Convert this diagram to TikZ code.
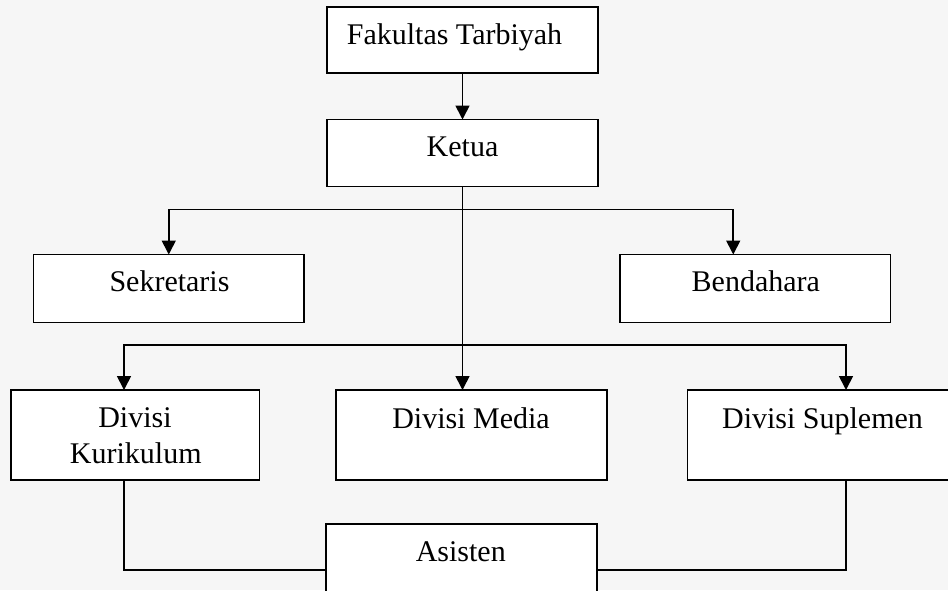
\documentclass[tikz,border=0pt]{standalone}
\usepackage{fontspec}
\setmainfont{Liberation Serif}
\usetikzlibrary{arrows.meta}
\definecolor{bgcol}{RGB}{246,246,246}
\tikzset{
  box/.style={draw=black, fill=white, line width=1.7pt, inner sep=0pt, outer sep=0pt},
  lbl/.style={inner sep=0pt, outer sep=0pt, font=\fontsize{30pt}{36pt}\selectfont, anchor=base},
  conn/.style={draw=black, line width=1.7pt},
  arr/.style={conn, -{Triangle[length=14pt,width=14pt]}}
}
\begin{document}
\begin{tikzpicture}[x=1pt,y=-1pt]
\useasboundingbox (0,0) rectangle (948,590);
\clip (0,0) rectangle (948,590);
\fill[bgcol] (0,0) rectangle (948,590);
% boxes
\node[box, minimum width=271pt, minimum height=66pt] (fak) at (462.5,40) {};
\node[box, minimum width=271pt, minimum height=67pt] (ket) at (462.5,153) {};
\node[box, minimum width=270.5pt, minimum height=68pt] (sek) at (168.75,288.5) {};
\node[box, minimum width=270.5pt, minimum height=68pt] (ben) at (755.25,288.5) {};
\node[box, minimum width=248.5pt, minimum height=90pt] (kur) at (135.25,435) {};
\node[box, minimum width=271pt, minimum height=90pt] (med) at (471.5,435) {};
\node[box, minimum width=270.5pt, minimum height=90pt] (sup) at (822.75,435) {};
\node[box, minimum width=271pt, minimum height=92pt] (asi) at (461.5,570) {};
% texts
\node[lbl] (tfak) at (454.5,44.3) {Fakultas Tarbiyah};
\node[lbl] (tket) at (462.5,156.7) {Ketua};
\node[lbl] (tsek) at (169.5,291.7) {Sekretaris};
\node[lbl] (tben) at (755.8,291.7) {Bendahara};
\node[lbl] (tkur1) at (135,427.3) {Divisi};
\node[lbl] (tkur2) at (135.8,463.3) {Kurikulum};
\node[lbl] (tmed) at (471,428.3) {Divisi Media};
\node[lbl] (tsup) at (822.5,428.3) {Divisi Suplemen};
\node[lbl] (tasi) at (460.8,561.7) {Asisten};
% junctions
\coordinate (j1) at (462.5,209.5);
\coordinate (j2) at (462.5,345);
% connectors
\draw[arr] (fak.south) -- (ket.north);
\draw[arr] (ket.south) -- (ket.south |- med.north);
\draw[arr] (j1) -| (sek.north);
\draw[arr] (j1) -| ([xshift=-22pt]ben.north);
\draw[arr] (j2) -| ([xshift=-11.25pt]kur.north);
\draw[arr] (j2) -| ([xshift=23.25pt]sup.north);
\draw[conn] ([xshift=-11.25pt]kur.south) |- (asi.west);
\draw[conn] ([xshift=23.25pt]sup.south) |- (asi.east);
\end{tikzpicture}
\end{document}
